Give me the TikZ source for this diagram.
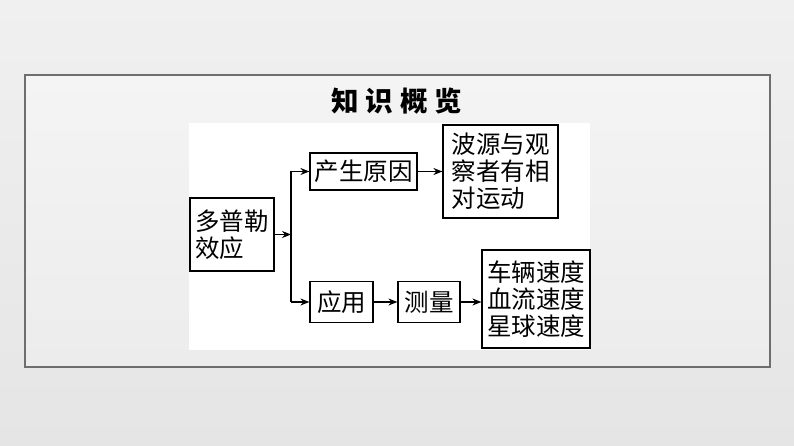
\documentclass[tikz,border=0pt]{standalone}
\usepackage{xcolor}
\usepackage{fontspec}
\usepackage{tikz}
\usetikzlibrary{arrows.meta}
\newfontfamily\cjk{Noto Sans CJK SC}
\definecolor{bgtop}{HTML}{F0F0F0}
\definecolor{bgbot}{HTML}{E5E5E5}
\definecolor{frtop}{HTML}{F4F4F4}
\definecolor{frbot}{HTML}{ECECEC}
\definecolor{frline}{HTML}{6E6E6E}

\begin{document}
\begin{tikzpicture}[x=1pt,y=-1pt,
  box/.style={draw,line width=1.2pt,fill=white,inner sep=0pt,align=left,
    font=\cjk\fontsize{24.5}{27}\selectfont},
  arr/.style={line width=1.2pt,-{Stealth[length=9pt,width=7pt]}}]
%\draw[help lines] (0,0) grid (794,446);
\useasboundingbox (0,0) rectangle (794,446);
\shade [top color=bgtop,bottom color=bgbot] (0,0) rectangle (794,446);
\shade [top color=frtop,bottom color=frbot,draw=frline,line width=1.2pt] (25,75) rectangle (770,367);
\fill [white] (189,123) rectangle (590,350);

\node (title) at (397,101) [font=\cjk\bfseries\fontsize{27.5}{30}\selectfont] {知\hspace{7pt}识\hspace{7pt}概\hspace{7pt}览};

\node (dp) at (232,234.5) [box,minimum width=84,minimum height=73] {多普勒\\效应};
\node (cs) at (363.5,171.5) [box,minimum width=107,minimum height=37] {产生原因};
\node (bo) at (500.5,171.5) [box,minimum width=115,minimum height=93] {波源与观\\察者有相\\对运动};
\node (yy) at (341.5,302) [box,minimum width=63,minimum height=41] {应用};
\node (cl) at (429,302) [box,minimum width=62,minimum height=41] {测量};
\node (sd) at (536,299) [box,minimum width=108,minimum height=98] {车辆速度\\血流速度\\星球速度};

\coordinate (j) at (291,234.5);
\draw [arr] (dp) -- (j);
\draw [line width=1.2pt] (j |- cs.west) -- (j |- yy.west);
\draw [arr] (j |- cs.west) -- (cs);
\draw [arr] (j |- yy.west) -- (yy);
\draw [arr] (cs) -- (cs -| bo.west);
\draw [arr] (yy) -- (cl);
\draw [arr] (cl) -- (cl -| sd.west);
\end{tikzpicture}
\end{document}
